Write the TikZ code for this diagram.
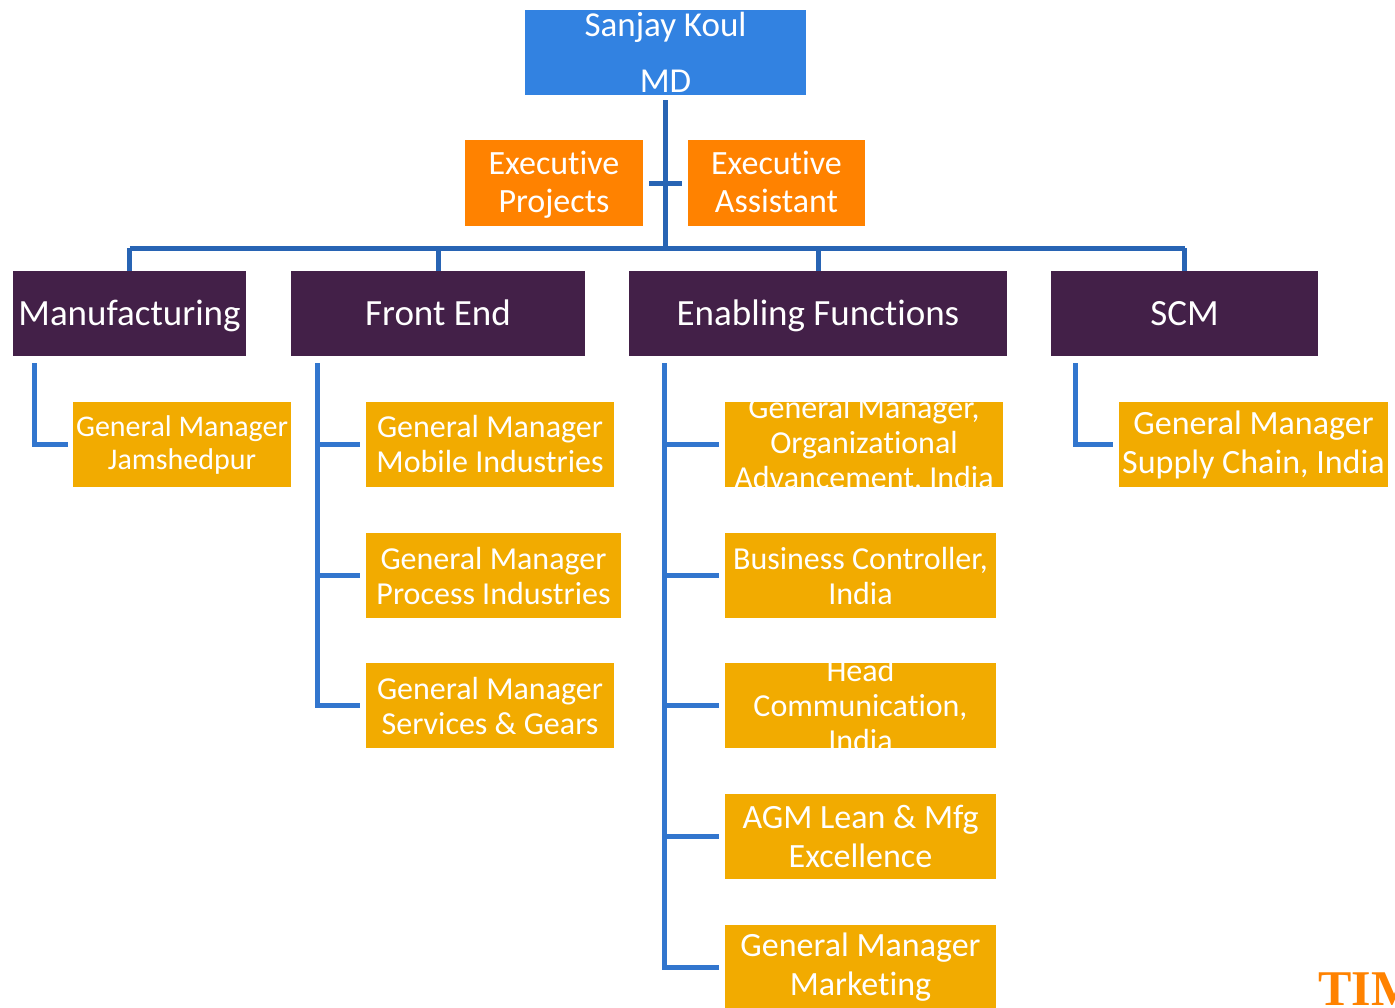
\documentclass[tikz,border=0pt]{standalone}
\usepackage{fontspec}
\setmainfont{Carlito}[Ligatures=NoCommon,Contextuals=NoAlternate]
\newfontfamily\logofont{Liberation Serif}
\usetikzlibrary{calc}
\definecolor{mdblue}{RGB}{50,130,225}
\definecolor{exorange}{RGB}{255,130,0}
\definecolor{headpurple}{RGB}{67,32,72}
\definecolor{gold}{RGB}{242,171,0}
\definecolor{linedark}{RGB}{40,100,180}
\definecolor{linelight}{RGB}{50,118,206}
\begin{document}
\begin{tikzpicture}[x=1pt,y=-1pt,
  box/.style={inner sep=0pt,minimum height=85pt},
  boxtext/.style={text=white,align=center,inner sep=0pt,font=\fontsize{32}{35}\selectfont},
  mdbox/.style={box,fill=mdblue,label={[boxtext,font=\fontsize{35}{56}\selectfont]center:{#1}}},
  exbox/.style={box,minimum height=86pt,fill=exorange,label={[boxtext,font=\fontsize{34}{38}\selectfont,yshift=-2pt]center:{#1}}},
  headbox/.style={box,fill=headpurple,label={[boxtext,font=\fontsize{37}{40}\selectfont,text height=23.8pt,text depth=0pt]center:{#1}}},
  gmbox/.style={box,fill=gold,label={[boxtext]center:{#1}}},
  gmboxs/.style={box,fill=gold,label={[boxtext,font=\fontsize{30}{33}\selectfont]center:{#1}}},
  gmboxl/.style={box,fill=gold,label={[boxtext,font=\fontsize{34}{39}\selectfont]center:{#1}}},
  link/.style={draw=linedark,line width=5pt},
  sublink/.style={draw=linelight,line width=5pt}]
\clip (0,0) rectangle (1395,1007);
\useasboundingbox (0,0) rectangle (1395,1007);

\node[mdbox={Sanjay Koul\\MD},minimum width=281pt] (md) at (665.5,52.5) {};
\node[exbox={Executive\\Projects},minimum width=178pt] (ep) at (554,183) {};
\node[exbox={Executive\\Assistant\vphantom{j}},minimum width=177pt] (ea) at (776.5,183) {};

\node[headbox={Manufacturing},minimum width=233pt] (mfg) at (129.5,313.5) {};
\node[headbox={Front End},minimum width=294pt] (fe) at (438,313.5) {};
\node[headbox={Enabling Functions},minimum width=378pt] (ef) at (818,313.5) {};
\node[headbox={SCM},minimum width=267pt] (scm) at (1184.5,313.5) {};

\node[gmboxs={General Manager\\Jamshedpur},minimum width=218pt] (jam) at (182,444.5) {};

\node[gmbox={General Manager\\Mobile Industries},minimum width=248pt] (fe1) at (490,444.5) {};
\node[gmbox={General Manager\\Process Industries},minimum width=255pt] (fe2) at (493.5,575.5) {};
\node[gmbox={General Manager\\Services \& Gears},minimum width=248pt] (fe3) at (490,705.5) {};

\node[gmbox={General Manager,\\Organizational\\Advancement, India},minimum width=278pt] (ef1) at (864,444.5) {};
\node[gmbox={Business Controller,\\India},minimum width=271pt] (ef2) at (860.5,575.5) {};
\node[gmbox={Head\\Communication,\\India},minimum width=271pt] (ef3) at (860.5,705.5) {};
\node[gmboxl={AGM Lean \& Mfg\\Excellence},minimum width=271pt] (ef4) at (860.5,836.5) {};
\node[gmboxl={General Manager\\Marketing},minimum width=271pt] (ef5) at (860.5,967.5) {};

\node[gmboxl={General Manager\\Supply Chain, India},minimum width=269pt] (sc1) at (1253.5,444.5) {};

\node[anchor=base west,inner sep=0pt,text=exorange,font=\logofont\bfseries\fontsize{50}{50}\selectfont] (logo) at (1318,1005) {TIM};

\coordinate (hub) at (665.5,248);
\draw[link] ($(md.south)+(0,5)$) -- (hub);
\draw[link] ($(ep.east)+(6,0)$) -- ($(ea.west)+(-6,0)$);
\draw[link] (mfg.north |- hub) -- (scm.north |- hub);
\foreach \n in {mfg,fe,ef,scm}
  \draw[link] (\n.north |- hub) -- (\n.north);

\coordinate (mfgtop) at ($(mfg.south west)+(22,7)$);
\coordinate (fetop) at ($(fe.south west)+(27,7)$);
\coordinate (eftop) at ($(ef.south west)+(36,7)$);
\coordinate (scmtop) at ($(scm.south west)+(25,7)$);

\draw[sublink] (mfgtop) |- ($(jam.west)+(-5,0)$);
\draw[sublink] (fetop) |- ($(fe3.west)+(-6,0)$);
\foreach \n in {fe1,fe2}
  \draw[sublink] (fetop |- \n.west) -- ($(\n.west)+(-6,0)$);
\draw[sublink] (eftop) |- ($(ef5.west)+(-6,0)$);
\foreach \n in {ef1,ef2,ef3,ef4}
  \draw[sublink] (eftop |- \n.west) -- ($(\n.west)+(-6,0)$);
\draw[sublink] (scmtop) |- ($(sc1.west)+(-6,0)$);
\end{tikzpicture}
\end{document}
